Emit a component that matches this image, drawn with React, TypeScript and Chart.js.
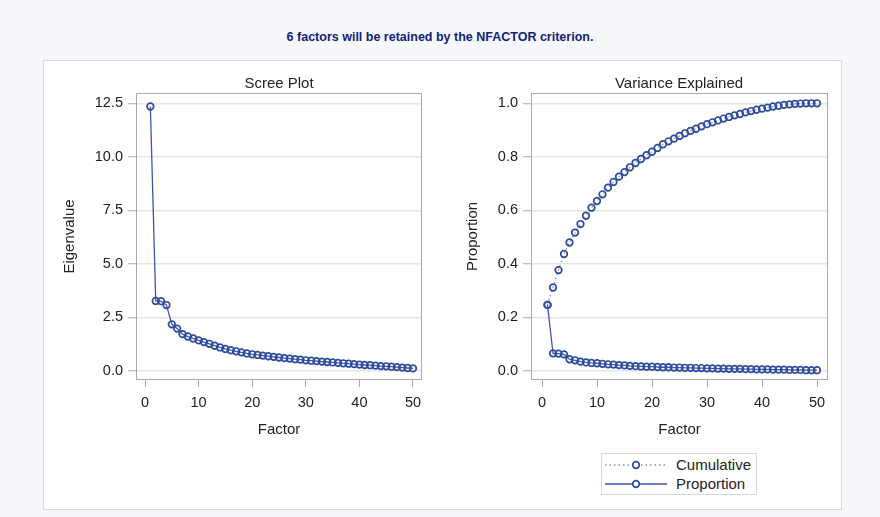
import React, { useEffect, useRef } from 'react';
import { Chart, registerables } from 'chart.js';

Chart.register(...registerables);

const FONT = "'Liberation Sans', Arial, Helvetica, sans-serif";

const headerText = '6 factors will be retained by the NFACTOR criterion.';
const screeTitle = 'Scree Plot';
const varianceTitle = 'Variance Explained';
const xAxisTitle = 'Factor';
const eigenAxisTitle = 'Eigenvalue';
const propAxisTitle = 'Proportion';
const legendLabels = ['Cumulative', 'Proportion'];

const factors = [
  1, 2, 3, 4, 5, 6, 7, 8, 9, 10,
  11, 12, 13, 14, 15, 16, 17, 18, 19, 20,
  21, 22, 23, 24, 25, 26, 27, 28, 29, 30,
  31, 32, 33, 34, 35, 36, 37, 38, 39, 40,
  41, 42, 43, 44, 45, 46, 47, 48, 49, 50,
];

const eigenvalues = [
  12.35, 3.27, 3.26, 3.08, 2.18, 1.98, 1.72, 1.61, 1.52, 1.43,
  1.35, 1.27, 1.18, 1.10, 1.03, 0.97, 0.92, 0.87, 0.82, 0.78,
  0.75, 0.72, 0.69, 0.66, 0.63, 0.60, 0.58, 0.55, 0.53, 0.50,
  0.48, 0.46, 0.44, 0.42, 0.40, 0.38, 0.36, 0.34, 0.32, 0.30,
  0.28, 0.27, 0.25, 0.23, 0.22, 0.20, 0.18, 0.16, 0.14, 0.12,
];

const cumulative = [
  0.247, 0.312, 0.377, 0.437, 0.480, 0.517, 0.549, 0.580, 0.610, 0.635,
  0.660, 0.685, 0.706, 0.726, 0.743, 0.761, 0.777, 0.792, 0.806, 0.819,
  0.833, 0.847, 0.858, 0.868, 0.878, 0.888, 0.897, 0.905, 0.914, 0.922,
  0.929, 0.936, 0.943, 0.949, 0.955, 0.960, 0.966, 0.971, 0.976, 0.980,
  0.984, 0.988, 0.991, 0.994, 0.996, 0.998, 0.999, 1.000, 1.000, 1.000,
];

const proportion = [
  0.247, 0.066, 0.065, 0.062, 0.044, 0.040, 0.035, 0.032, 0.030, 0.029,
  0.027, 0.025, 0.024, 0.022, 0.021, 0.019, 0.018, 0.017, 0.016, 0.016,
  0.015, 0.014, 0.014, 0.013, 0.013, 0.012, 0.012, 0.011, 0.011, 0.010,
  0.010, 0.009, 0.009, 0.008, 0.008, 0.008, 0.007, 0.007, 0.006, 0.006,
  0.006, 0.005, 0.005, 0.005, 0.004, 0.004, 0.004, 0.003, 0.003, 0.003,
];

const xTicks = [0, 10, 20, 30, 40, 50];
const eigenTicks = [0, 2.5, 5, 7.5, 10, 12.5];
const propTicks = [0, 0.2, 0.4, 0.6, 0.8, 1.0];

const LINE = '#3e56a6';
const MARK = '#2f4b9e';
const DOT_LINE = '#7a8fc8';
const TEXT = '#222222';

const framePlugin = {
  id: 'frame',
  beforeDatasetsDraw(chart: any) {
    const { ctx, chartArea } = chart;
    const { left, top, right, bottom } = chartArea;
    ctx.save();
    ctx.strokeStyle = '#aaaaaa';
    ctx.lineWidth = 1;
    ctx.strokeRect(Math.round(left) + 0.5, Math.round(top) + 0.5, Math.round(right - left) - 1, Math.round(bottom - top) - 1);
    ctx.restore();
  },
};

function buildOptions(cfg: {
  xMin: number; xMax: number; yMin: number; yMax: number;
  yTicks: number[]; yTitle: string; yWidth: number; yTitlePad: number; padRight: number;
}) {
  return {
    animation: false as const,
    responsive: false,
    maintainAspectRatio: false,
    layout: { padding: { left: 0, top: 33, right: cfg.padRight, bottom: 0 } },
    plugins: { legend: { display: false }, tooltip: { enabled: false }, title: { display: false } },
    scales: {
      x: {
        type: 'linear' as const,
        min: cfg.xMin,
        max: cfg.xMax,
        afterBuildTicks: (s: any) => { s.ticks = xTicks.map((v) => ({ value: v })); },
        afterFit: (s: any) => { s.height = 60; },
        grid: { drawOnChartArea: false, drawTicks: true, tickLength: 7, tickColor: '#a8a8a8', tickWidth: 1 },
        border: { display: false },
        ticks: { padding: 7, color: TEXT, font: { family: FONT, size: 14.5 }, maxRotation: 0, callback: (v: any) => String(v) },
        title: { display: true, text: xAxisTitle, color: TEXT, font: { family: FONT, size: 15 }, padding: { top: 0, bottom: 1 } },
      },
      y: {
        type: 'linear' as const,
        min: cfg.yMin,
        max: cfg.yMax,
        afterBuildTicks: (s: any) => { s.ticks = cfg.yTicks.map((v) => ({ value: v })); },
        afterFit: (s: any) => { s.width = cfg.yWidth; },
        grid: { drawOnChartArea: true, color: '#e6e6e6', lineWidth: 1.5, drawTicks: true, tickLength: 8, tickColor: '#a8a8a8', tickWidth: 1 },
        border: { display: false },
        ticks: { padding: 5, color: TEXT, font: { family: FONT, size: 14.5 }, callback: (v: any) => Number(v).toFixed(1) },
        title: { display: true, text: cfg.yTitle, color: TEXT, font: { family: FONT, size: 15 }, padding: { top: cfg.yTitlePad, bottom: 0 } },
      },
    },
  };
}

function ScreeChart() {
  const ref = useRef<HTMLCanvasElement | null>(null);
  useEffect(() => {
    if (!ref.current) return;
    const chart = new Chart(ref.current, {
      type: 'line',
      data: {
        datasets: [
          {
            label: 'Eigenvalue',
            data: factors.map((f, i) => ({ x: f, y: eigenvalues[i] })),
            borderColor: LINE,
            borderWidth: 1.3,
            pointRadius: 3.3,
            pointBorderWidth: 1.7,
            pointBorderColor: MARK,
            pointBackgroundColor: 'rgba(255,255,255,0)',
            tension: 0,
          },
        ],
      },
      options: buildOptions({
        xMin: -1.68, xMax: 51.68, yMin: -0.42, yMax: 12.98,
        yTicks: eigenTicks, yTitle: eigenAxisTitle, yWidth: 93, yTitlePad: 18, padRight: 21,
      }) as any,
      plugins: [framePlugin],
    });
    return () => chart.destroy();
  }, []);
  return <canvas ref={ref} width={400} height={380} style={{ position: 'absolute', left: 43, top: 60, width: 400, height: 380 }} />;
}

function VarianceChart() {
  const ref = useRef<HTMLCanvasElement | null>(null);
  useEffect(() => {
    if (!ref.current) return;
    const chart = new Chart(ref.current, {
      type: 'line',
      data: {
        datasets: [
          {
            label: legendLabels[0],
            data: factors.map((f, i) => ({ x: f, y: cumulative[i] })),
            borderColor: DOT_LINE,
            borderWidth: 1.2,
            borderDash: [1.5, 3],
            pointRadius: 3.3,
            pointBorderWidth: 1.7,
            pointBorderColor: MARK,
            pointBackgroundColor: 'rgba(255,255,255,0)',
            tension: 0,
          },
          {
            label: legendLabels[1],
            data: factors.map((f, i) => ({ x: f, y: proportion[i] })),
            borderColor: LINE,
            borderWidth: 1.3,
            pointRadius: 3.3,
            pointBorderWidth: 1.7,
            pointBorderColor: MARK,
            pointBackgroundColor: 'rgba(255,255,255,0)',
            tension: 0,
          },
        ],
      },
      options: buildOptions({
        xMin: -2, xMax: 52, yMin: -0.0336, yMax: 1.0385,
        yTicks: propTicks, yTitle: propAxisTitle, yWidth: 88, yTitlePad: 21, padRight: 15,
      }) as any,
      plugins: [framePlugin],
    });
    return () => chart.destroy();
  }, []);
  return <canvas ref={ref} width={400} height={380} style={{ position: 'absolute', left: 443, top: 60, width: 400, height: 380 }} />;
}

function LegendSymbol({ dotted }: { dotted: boolean }) {
  return (
    <svg width={64} height={12} style={{ position: 'absolute', left: 0, top: -6 }}>
      <line x1={1} y1={6} x2={63} y2={6} stroke={dotted ? DOT_LINE : LINE} strokeWidth={1.3} strokeDasharray={dotted ? '1.5 3' : undefined} />
      <circle cx={32} cy={6} r={3.3} fill="white" stroke={MARK} strokeWidth={1.7} />
    </svg>
  );
}

export default function App() {
  const titleStyle: React.CSSProperties = {
    position: 'absolute', fontFamily: FONT, fontSize: 15, color: TEXT, whiteSpace: 'nowrap',
    transform: 'translate(-50%, -50%)', lineHeight: '18px',
  };
  const legendText: React.CSSProperties = {
    position: 'absolute', left: 74, fontFamily: FONT, fontSize: 15, color: TEXT, whiteSpace: 'nowrap', lineHeight: '18px',
  };
  return (
    <div style={{ position: 'fixed', left: 0, top: 0, width: 880, height: 517, background: '#f7f8fb', overflow: 'hidden' }}>
      <div style={{
        position: 'absolute', left: 0, top: 37, width: 880, textAlign: 'center', fontFamily: FONT, fontSize: 12.5,
        fontWeight: 'bold', color: '#112277', lineHeight: '15px', transform: 'translateY(-50%)',
      }}>{headerText}</div>
      <div style={{ position: 'absolute', left: 43, top: 60, width: 797, height: 448, background: '#ffffff', border: '1px solid #dadada' }} />
      <ScreeChart />
      <VarianceChart />
      <div style={{ ...titleStyle, left: 279, top: 83 }}>{screeTitle}</div>
      <div style={{ ...titleStyle, left: 679, top: 83 }}>{varianceTitle}</div>
      <div style={{ position: 'absolute', left: 601, top: 453, width: 154, height: 40, border: '1px solid #d8d8d8', background: '#ffffff' }}>
        <div style={{ position: 'absolute', left: 2, top: 11, width: 64, height: 0 }}>
          <LegendSymbol dotted={true} />
        </div>
        <div style={{ ...legendText, top: 2 }}>{legendLabels[0]}</div>
        <div style={{ position: 'absolute', left: 2, top: 30, width: 64, height: 0 }}>
          <LegendSymbol dotted={false} />
        </div>
        <div style={{ ...legendText, top: 21 }}>{legendLabels[1]}</div>
      </div>
    </div>
  );
}
